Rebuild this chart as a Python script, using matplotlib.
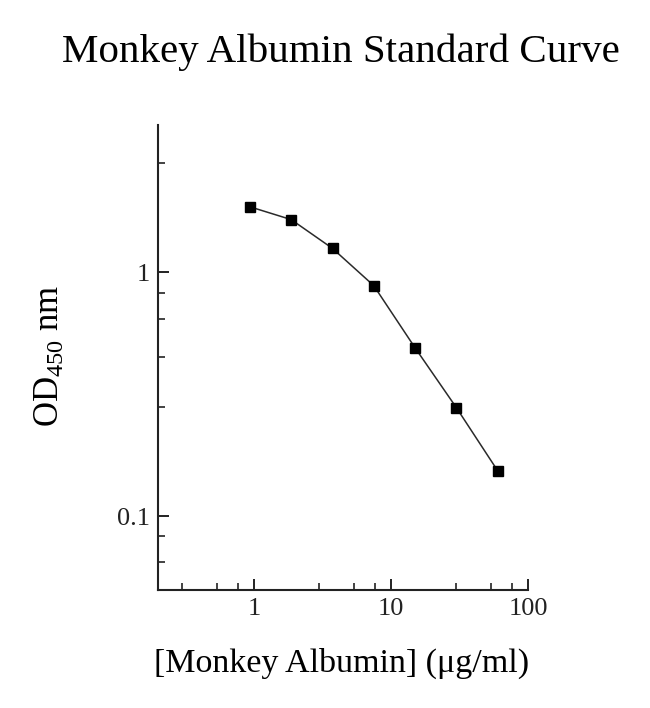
import numpy as np
import matplotlib
matplotlib.use("Agg")
import matplotlib.pyplot as plt
from matplotlib.ticker import FixedLocator, NullFormatter

plt.rcParams['font.family'] = ['Liberation Serif', 'DejaVu Serif']
plt.rcParams['mathtext.fontset'] = 'custom'
plt.rcParams['mathtext.rm'] = 'Liberation Serif'
plt.rcParams['mathtext.it'] = 'Liberation Serif:italic'

# standard curve, 2-fold dilutions
conc = [0.9375, 1.875, 3.75, 7.5, 15, 30, 60]
od450 = [1.85, 1.64, 1.25, 0.88, 0.49, 0.279, 0.154]

x_major = [1, 10, 100]
x_labels = ['1', '10', '100']
x_minor = [0.3, 0.54, 0.77, 3, 5.4, 7.7, 30, 54, 77]
y_major = [0.1, 1]
y_labels = ['0.1', '1']
y_minor = [0.065, 0.083, 0.28, 0.45, 0.64, 0.82, 2.8]

fig = plt.figure(figsize=(6.5, 7.08), dpi=100)
ax = fig.add_axes([158/650, 118/708, 370/650, 465/708])

ax.plot(conc, od450, color='#2a2a2a', lw=1.1, marker='s', ms=7,
        mfc='black', mec='black', zorder=3)

ax.set_xscale('log')
ax.set_yscale('log')
ax.set_xlim(0.2, 100)
ax.set_ylim(0.05, 4)

ax.xaxis.set_major_locator(FixedLocator(x_major))
ax.set_xticklabels(x_labels)
ax.xaxis.set_minor_locator(FixedLocator(x_minor))
ax.xaxis.set_minor_formatter(NullFormatter())
ax.yaxis.set_major_locator(FixedLocator(y_major))
ax.set_yticklabels(y_labels)
ax.yaxis.set_minor_locator(FixedLocator(y_minor))
ax.yaxis.set_minor_formatter(NullFormatter())

for s in ['top', 'right']:
    ax.spines[s].set_visible(False)
for s in ['left', 'bottom']:
    ax.spines[s].set_linewidth(1.5)
    ax.spines[s].set_color('#222222')

ax.tick_params(which='major', direction='in', length=8, width=1.4,
               labelsize=19, colors='#222222', pad=6)
ax.tick_params(which='minor', direction='in', length=5, width=1.2,
               colors='#222222')

ax.set_xlabel('[Monkey Albumin] (\u03bcg/ml)', fontsize=24.5)
ax.xaxis.set_label_coords(0.495, -0.125)
ax.set_ylabel('OD$_{450}$ nm', fontsize=25)
ax.yaxis.set_label_coords(-0.245, 0.503)

fig.suptitle('Monkey Albumin Standard Curve', fontsize=29.5, x=0.525, y=0.953)

plt.savefig('out.png', dpi=100)
